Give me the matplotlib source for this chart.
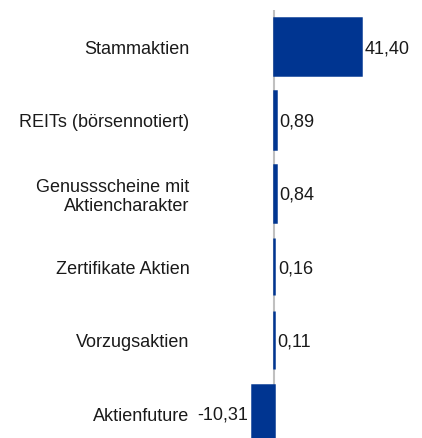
import matplotlib
matplotlib.use("Agg")
import matplotlib.pyplot as plt

categories = ["Stammaktien", "REITs (börsennotiert)", "Genussscheine mit\nAktiencharakter",
              "Zertifikate Aktien", "Vorzugsaktien", "Aktienfuture"]
values = [41.40, 0.89, 0.84, 0.16, 0.11, -10.31]
labels = ["41,40", "0,89", "0,84", "0,16", "0,11", "-10,31"]

plt.rcParams['font.family'] = ['Liberation Sans', 'DejaVu Sans']
W, H, DPI = 422, 439, 100
fig = plt.figure(figsize=(W / DPI, H / DPI), dpi=DPI)

# axes in pixel space: x 200..422, y 11..451 (bottom slot clipped)
ax_left, ax_right = 200, 422
ax_top, ax_bot = 11, 451
ax = fig.add_axes([ax_left / W, 1 - ax_bot / H, (ax_right - ax_left) / W, (ax_bot - ax_top) / H])

zero_px = 274
ppu = 87 / 41.4
ax.set_xlim(-(zero_px - ax_left) / ppu, (ax_right - zero_px) / ppu)
n = len(categories)
ax.set_ylim(n - 0.5, -0.5)

color = '#003591'
ypos = list(range(n))
ax.barh(ypos, values, height=0.78, color=color, edgecolor=color, linewidth=1.8, zorder=2)
ax.axvline(0, color='#c0c0c0', linewidth=1.5, zorder=1)

fs = 13
for y, v, lab in zip(ypos, values, labels):
    if v >= 0:
        ax.annotate(lab, (v, y), xytext=(3.5, -1), textcoords='offset pixels',
                    ha='left', va='center', fontsize=fs, color='#1a1a1a')
    else:
        ax.annotate(lab, (v, y), xytext=(-4, -1), textcoords='offset pixels',
                    ha='right', va='center', fontsize=fs, color='#1a1a1a')

ax.set_yticks(ypos)
ax.set_yticklabels(categories, fontsize=fs, color='#1a1a1a', ha='right', linespacing=1.1)
ax.tick_params(axis='y', length=0, pad=7.5)
ax.set_xticks([])
for s in ax.spines.values():
    s.set_visible(False)

fig.savefig("out.png", dpi=DPI)
